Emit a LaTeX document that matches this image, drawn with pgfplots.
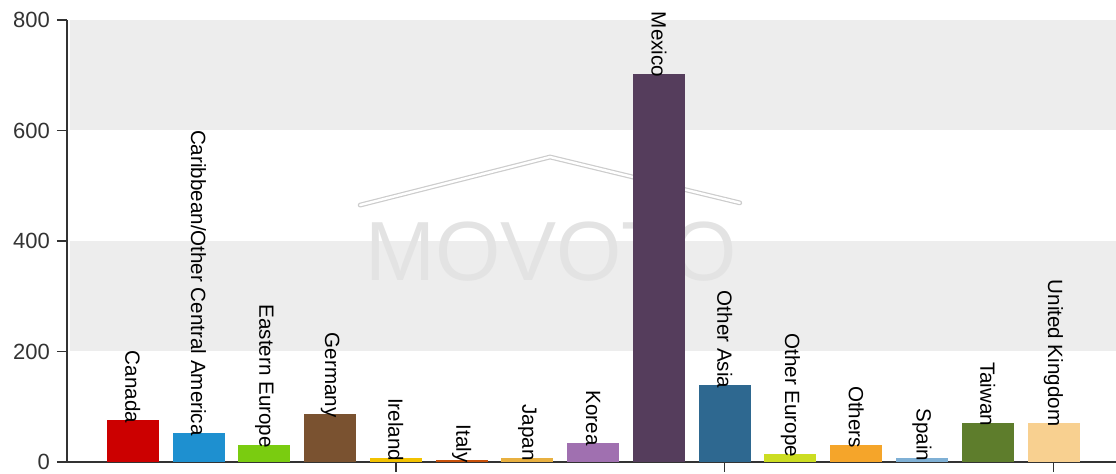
\documentclass[border=0pt]{standalone}
\usepackage{pgfplots}
\pgfplotsset{compat=1.18}
\usepackage{fontspec}
\setmainfont{Liberation Sans}
\definecolor{cCanada}{HTML}{CC0000}
\definecolor{cCarib}{HTML}{1E90D0}
\definecolor{cEastEu}{HTML}{7ACC10}
\definecolor{cGermany}{HTML}{7A5230}
\definecolor{cIreland}{HTML}{F2C200}
\definecolor{cItaly}{HTML}{C8500A}
\definecolor{cJapan}{HTML}{E8B040}
\definecolor{cKorea}{HTML}{A070B0}
\definecolor{cMexico}{HTML}{553D5C}
\definecolor{cOAsia}{HTML}{2E6890}
\definecolor{cOEurope}{HTML}{CCDD22}
\definecolor{cOthers}{HTML}{F5A52A}
\definecolor{cSpain}{HTML}{7FB0D5}
\definecolor{cTaiwan}{HTML}{5E7D2C}
\definecolor{cUK}{HTML}{F8D090}
\definecolor{band}{HTML}{EDEDED}
\definecolor{wmark}{HTML}{CCCCCC}
\definecolor{wtext}{HTML}{E3E3E3}
\definecolor{axisgray}{HTML}{333333}
\newcommand{\mybar}[4]{\addplot[fill=#1, draw=none] coordinates {(#2,#3) [#4]};}
\begin{document}
\begin{tikzpicture}
\begin{axis}[
  scale only axis,
  width=524.5pt, height=221pt,
  xmin=-1, xmax=14.95,
  ymin=0, ymax=800,
  ytick={0,200,400,600,800},
  xtick={4,9,14},
  xticklabels={},
  axis x line*=bottom, axis y line*=left,
  axis line style={-, draw=axisgray, line width=0.8pt},
  tick style={draw=axisgray, line width=0.8pt},
  tick align=outside,
  major tick length=5pt,
  yticklabel style={font=\fontsize{11}{13}\selectfont, text=axisgray},
  /pgf/number format/assume math mode=true,
  clip=false,
  ybar, bar width=0.79, bar shift=0pt,
  point meta=explicit symbolic,
  nodes near coords,
  every node near coord/.append style={rotate=-90, anchor=east, inner sep=0pt, outer sep=-1.5pt, font=\fontsize{10.3}{12}\selectfont, text=black},
]
\fill[band] (rel axis cs:0.003,0.25) rectangle (rel axis cs:1,0.5);
\fill[band] (rel axis cs:0.003,0.75) rectangle (rel axis cs:1,1);
% watermark
\draw[wmark, line width=0.6pt, double=white, double distance=1.2pt, line join=round, line cap=round] (axis cs:3.457,465) -- (axis cs:6.345,552) -- (axis cs:9.23,469);
\node[text=wtext, font=\fontsize{42}{44}\selectfont, inner sep=0pt] at (axis cs:6.36,381) {MOVOTO};
\mybar{cCanada}{0}{76}{Canada}
\mybar{cCarib}{1}{53}{Caribbean/Other Central America}
\mybar{cEastEu}{2}{31}{Eastern Europe}
\mybar{cGermany}{3}{86}{Germany}
\mybar{cIreland}{4}{7}{Ireland}
\mybar{cItaly}{5}{4}{Italy}
\mybar{cJapan}{6}{8}{Japan}
\mybar{cKorea}{7}{35}{Korea}
\mybar{cMexico}{8}{702}{Mexico}
\mybar{cOAsia}{9}{139}{Other Asia}
\mybar{cOEurope}{10}{14}{Other Europe}
\mybar{cOthers}{11}{31}{Others}
\mybar{cSpain}{12}{7}{Spain}
\mybar{cTaiwan}{13}{70}{Taiwan}
\mybar{cUK}{14}{70}{United Kingdom}
\end{axis}
\pgfresetboundingbox
\path (current axis.south west) ++(-33.5pt,-6pt) coordinate (bbA);
\path (current axis.north east) ++(0pt,10pt) coordinate (bbB);
\path[use as bounding box] (bbA) rectangle (bbB);
\end{tikzpicture}
\end{document}
